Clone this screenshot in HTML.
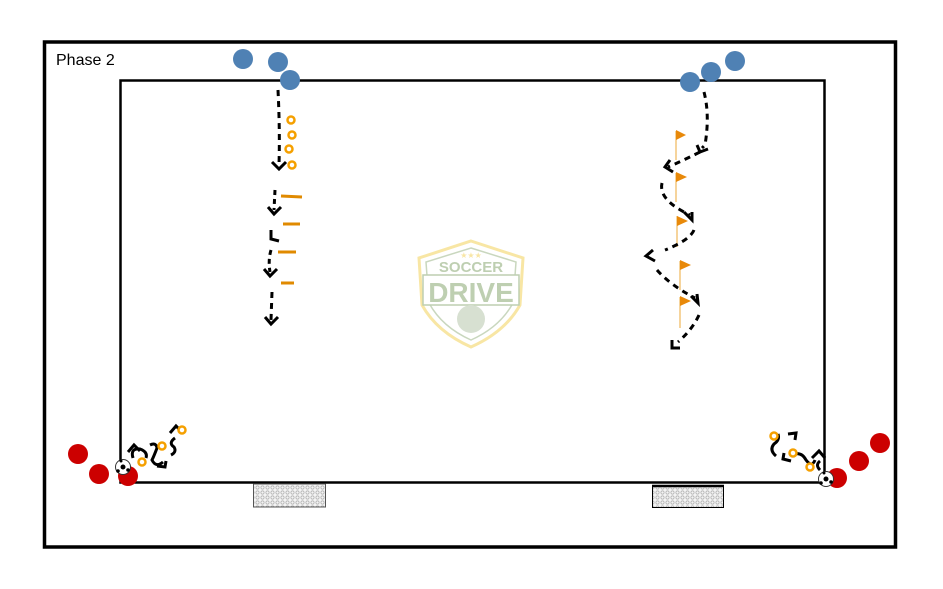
<!DOCTYPE html>
<html><head><meta charset="utf-8"><style>
html,body{margin:0;padding:0;background:#fff;}
svg{display:block;}
</style></head><body>
<svg width="943" height="589" viewBox="0 0 943 589" xmlns="http://www.w3.org/2000/svg">
<defs>
<pattern id="net" width="5" height="5" patternUnits="userSpaceOnUse">
<rect width="5" height="5" fill="#f4f4f4"/>
<circle cx="2.5" cy="2.5" r="1.6" fill="none" stroke="#aaa" stroke-width="0.7"/>
</pattern>
</defs>
<rect x="0" y="0" width="943" height="589" fill="#fff"/>
<rect x="44.5" y="42" width="851" height="505" fill="none" stroke="#000" stroke-width="3.5"/>
<text x="56" y="65" font-family="Liberation Sans, sans-serif" font-size="16" fill="#000">Phase 2</text>
<rect x="120.5" y="80.5" width="704" height="402" fill="none" stroke="#000" stroke-width="2.5"/>
<!-- goals -->
<rect x="253.5" y="484" width="72" height="23" fill="url(#net)" stroke="#555" stroke-width="1"/>
<rect x="652.5" y="485.5" width="71" height="22" fill="url(#net)" stroke="#000" stroke-width="1"/>
<line x1="652" y1="486" x2="724" y2="486" stroke="#000" stroke-width="2.5"/>

<!-- logo -->
<g opacity="0.55">
<path d="M471 241 L523 258 L520 305 Q505 332 471 347 Q437 332 422 305 L419 258 Z" fill="#fff" stroke="#f3d25a" stroke-width="3"/>
<path d="M471 248 L516 262 L513 303 Q500 327 471 340 Q442 327 429 303 L426 262 Z" fill="none" stroke="#9db78a" stroke-width="1.5"/>
<text x="471" y="258" font-family="DejaVu Sans, sans-serif" font-size="8" fill="#f3d25a" text-anchor="middle">★★★</text>
<text x="471" y="272" font-family="Liberation Sans, sans-serif" font-size="15" font-weight="bold" fill="#8aa873" text-anchor="middle">SOCCER</text>
<rect x="423" y="275" width="96" height="30" fill="#fff" stroke="#8aa873" stroke-width="1.5"/>
<text x="471" y="302" font-family="Liberation Sans, sans-serif" font-size="28" font-weight="bold" fill="#8aa873" text-anchor="middle">DRIVE</text>
<circle cx="471" cy="319" r="14" fill="#b8c8ad"/>
</g>

<g fill="#4f81b4">
<circle cx="243" cy="59" r="10"/><circle cx="278" cy="62" r="10"/><circle cx="290" cy="80" r="10"/>
<circle cx="690" cy="82" r="10"/><circle cx="711" cy="72" r="10"/><circle cx="735" cy="61" r="10"/>
</g>

<g fill="none" stroke="#000" stroke-width="3">
<path d="M278 90 Q280 130 279 165" stroke-dasharray="6,5"/>
<path d="M272 162 L279 169 L286 162"/>
<path d="M275 190 L274 210" stroke-dasharray="5,4"/>
<path d="M268 207 L274 214 L281 207"/>
<path d="M271 230 L271 239 L279 241"/>
<path d="M271 250 Q268 260 270 272" stroke-dasharray="5,4"/>
<path d="M264 269 L270 276 L277 269"/>
<path d="M272 292 L271 320" stroke-dasharray="6,5"/>
<path d="M265 317 L271 324 L278 317"/>
</g>
<g fill="none" stroke="#f5a000" stroke-width="2.5">
<circle cx="291" cy="120" r="3.5"/><circle cx="292" cy="135" r="3.5"/><circle cx="289" cy="149" r="3.5"/><circle cx="292" cy="165" r="3.5"/>
</g>
<g stroke="#e08a00" stroke-width="3">
<line x1="281" y1="196" x2="302" y2="197"/><line x1="283" y1="224" x2="300" y2="224"/><line x1="278" y1="252" x2="296" y2="252"/><line x1="281" y1="283" x2="294" y2="283"/>
</g>

<g stroke="#f2c57a" stroke-width="1.5">
<line x1="676" y1="131" x2="676" y2="160"/>
<line x1="676" y1="173" x2="676" y2="202"/>
<line x1="677" y1="216" x2="677" y2="247"/>
<line x1="680" y1="261" x2="680" y2="290"/>
<line x1="680" y1="297" x2="680" y2="328"/>
</g>
<g fill="#e8890a">
<path d="M676 130 L686 135 L676 140 Z"/>
<path d="M676 172 L687 177 L676 182 Z"/>
<path d="M677 216 L688 221 L677 226 Z"/>
<path d="M680 260 L691 265 L680 270 Z"/>
<path d="M680 296 L691 301 L680 306 Z"/>
</g>
<g fill="none" stroke="#000" stroke-width="3">
<path d="M704 92 Q710 115 705 145 L702 148" stroke-dasharray="6,5"/>
<path d="M697 145 L700 152 L708 149"/>
<path d="M700 152 Q680 162 668 167" stroke-dasharray="6,5"/>
<path d="M670 160 L665 167 L673 172"/>
<path d="M662 183 Q658 200 690 215" stroke-dasharray="6,5"/>
<path d="M684 212 L692 220 L692 212"/>
<path d="M694 230 Q690 240 665 250" stroke-dasharray="6,5"/>
<path d="M653 250 L646 256 L655 261"/>
<path d="M657 270 Q670 285 695 298" stroke-dasharray="6,5"/>
<path d="M691 296 L698 303 L697 294"/>
<path d="M699 315 Q692 330 678 342" stroke-dasharray="6,5"/>
<path d="M672 340 L672 348 L680 348"/>
</g>

<g fill="#cc0000">
<circle cx="78" cy="454" r="10"/><circle cx="99" cy="474" r="10"/><circle cx="128" cy="476" r="10"/>
<circle cx="837" cy="478" r="10"/><circle cx="859" cy="461" r="10"/><circle cx="880" cy="443" r="10"/>
</g>
<g fill="none" stroke="#000" stroke-width="3">
<path d="M128 452 L134 445 L140 451"/>
<path d="M133 458 Q130 448 140 449 Q148 452 146 458"/>
<path d="M150 445 Q156 442 157 448 Q154 456 152 460 Q156 468 163 462"/>
<path d="M157 466 L165 467 L166 461"/>
<path d="M170 433 L176 426 L182 432"/>
<path d="M175 438 Q168 443 174 447 Q177 452 171 455"/>
<path d="M776 456 Q769 450 774 444 Q780 440 778 434"/>
<path d="M788 434 L796 433 L795 440"/>
<path d="M784 453 L783 459 L791 461"/>
<path d="M794 454 Q802 452 806 460 Q812 468 815 460"/>
<path d="M812 458 L819 451 L825 458"/>
<path d="M820 470 Q815 465 820 461"/>
</g>
<g fill="#fff" stroke="#f5a000" stroke-width="2.5">
<circle cx="142" cy="462" r="3.5"/><circle cx="162" cy="446" r="3.5"/><circle cx="182" cy="430" r="3.5"/>
<circle cx="774" cy="436" r="3.5"/><circle cx="793" cy="453" r="3.5"/><circle cx="810" cy="467" r="3.5"/>
</g>
<g>
<circle cx="123" cy="467" r="7.5" fill="#fff" stroke="#333" stroke-width="1"/>
<circle cx="123" cy="467" r="2.5" fill="#000"/><circle cx="118" cy="471" r="1.8" fill="#000"/><circle cx="128" cy="470" r="1.8" fill="#000"/><circle cx="121" cy="461" r="1.5" fill="#000"/>
<circle cx="826" cy="479" r="7.5" fill="#fff" stroke="#333" stroke-width="1"/>
<circle cx="826" cy="479" r="2.5" fill="#000"/><circle cx="821" cy="483" r="1.8" fill="#000"/><circle cx="831" cy="482" r="1.8" fill="#000"/><circle cx="824" cy="473" r="1.5" fill="#000"/>
</g>
</svg>
</body></html>
